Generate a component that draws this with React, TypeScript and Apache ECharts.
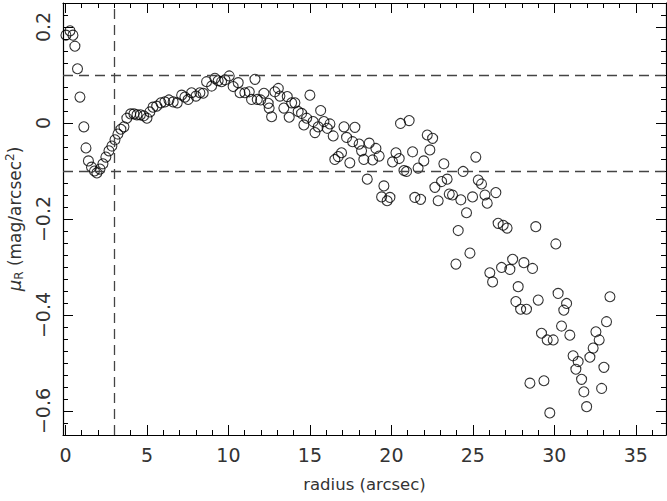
import React, { useEffect, useRef } from "react";
import * as echarts from "echarts";

// radius (arcsec)
const radius = [
  0.03, 0.28, 0.46, 0.58, 0.74, 0.89, 1.13, 1.26, 1.41, 1.6, 1.78, 1.93, 2.12, 2.3, 2.48, 2.67, 2.85,
  3.04, 3.22, 3.4, 3.59, 3.77, 4.0, 4.2, 4.39, 4.6, 4.8, 5.0, 5.18, 5.37, 5.6, 5.86, 6.1, 6.35,
  6.61, 6.86, 7.13, 7.33, 7.53, 7.74, 8.01, 8.25, 8.45, 8.66, 8.97, 9.17, 9.37, 9.58, 9.79, 10.05,
  10.29, 10.6, 10.71, 11.01, 11.28, 11.42, 11.63, 11.77, 11.98, 12.18,
  12.44, 12.5, 12.65, 12.85, 13.06, 13.16, 13.4, 13.61, 13.73, 13.88, 14.08, 14.28, 14.49, 14.63,
  14.8, 15.0, 15.2, 15.31, 15.51, 15.66, 15.86, 16.06, 16.23, 16.43,
  16.53, 16.74, 16.94, 17.09, 17.25, 17.45, 17.62, 17.76, 18.02, 18.17, 18.31, 18.52, 18.64, 18.85,
  19.05, 19.25, 19.4, 19.54, 19.74, 19.91, 20.07, 20.28, 20.48, 20.56, 20.77, 20.93, 21.09,
  21.3, 21.44, 21.64, 21.79, 21.99, 22.2, 22.36, 22.53, 22.67, 22.87, 23.08, 23.22, 23.42, 23.55,
  23.75, 23.96, 24.1, 24.26, 24.4, 24.61, 24.82, 24.98, 25.18, 25.33, 25.53, 25.74, 25.88, 26.04,
  26.21, 26.41, 26.55,
  26.76, 26.86, 27.1, 27.27, 27.44, 27.64, 27.78, 27.93, 28.13, 28.29, 28.5, 28.66, 28.86, 29.01,
  29.21, 29.36, 29.56, 29.72, 29.93, 30.09, 30.23, 30.44, 30.58, 30.75, 30.95, 31.15, 31.32, 31.46,
  31.67, 31.81, 31.98, 32.18, 32.38, 32.55, 32.75, 32.9, 33.04, 33.2, 33.41,
];

// mu_R (mag/arcsec^2)
const muR = [
  0.183, 0.192, 0.183, 0.16, 0.113, 0.054, -0.008, -0.052, -0.079, -0.092, -0.1, -0.104, -0.096,
  -0.085, -0.071, -0.058, -0.048, -0.035, -0.023, -0.013, -0.008, 0.01, 0.019, 0.019, 0.017, 0.017,
  0.015, 0.01, 0.023, 0.033, 0.035, 0.042, 0.044, 0.048,
  0.044, 0.042, 0.058, 0.054, 0.049, 0.063, 0.056, 0.063, 0.062, 0.086, 0.077, 0.093, 0.088, 0.086,
  0.09, 0.098, 0.076, 0.084, 0.063, 0.063, 0.065, 0.049, 0.091, 0.049, 0.048, 0.062,
  0.041, 0.031, 0.013, 0.065, 0.072, 0.056, 0.031, 0.055, 0.012, 0.042, 0.042, 0.024, 0.02, -0.004,
  0.01, 0.058, 0.003, -0.02, -0.008, 0.026, 0.003, -0.011, -0.002, -0.027,
  -0.076, -0.07, -0.062, -0.008, -0.03, -0.083, -0.039, -0.009, -0.044, -0.058, -0.076, -0.117,
  -0.042, -0.077, -0.053, -0.069, -0.154, -0.131, -0.162, -0.155, -0.081, -0.062, -0.074, -0.001,
  -0.099, -0.101, 0.005,
  -0.06, -0.155, -0.094, -0.159, -0.079, -0.025, -0.056, -0.032, -0.134, -0.162, -0.122, -0.085,
  -0.117, -0.148, -0.15, -0.294, -0.224, -0.16, -0.101, -0.187, -0.271, -0.154, -0.071, -0.119,
  -0.127, -0.15, -0.167, -0.312, -0.331, -0.145, -0.209,
  -0.301, -0.213, -0.219, -0.305, -0.284, -0.372, -0.341, -0.388, -0.291, -0.388, -0.542, -0.303,
  -0.216, -0.369, -0.438, -0.537, -0.452, -0.604, -0.452, -0.252, -0.355, -0.423, -0.39, -0.376,
  -0.442, -0.485, -0.513, -0.497, -0.534, -0.56, -0.591, -0.488, -0.469, -0.435, -0.452, -0.553,
  -0.509, -0.414, -0.362,
];

const xTicksMajor = [0, 5, 10, 15, 20, 25, 30, 35];
const yTicksMajor = [-0.6, -0.4, -0.2, 0, 0.2];
const refLevels = [0.1, -0.1];
const refRadius = 3;

const X_MIN = -0.15;
const X_MAX = 36.85;
const Y_MIN = -0.65;
const Y_MAX = 0.25;

const FONT = "DejaVu Sans";
const TXT = "#333";

function range(a: number, b: number, step: number): number[] {
  const out: number[] = [];
  const n = Math.round((b - a) / step);
  for (let i = 0; i <= n; i++) out.push(Math.round((a + i * step) * 1000) / 1000);
  return out;
}

const xTicksMinor = range(0, 36, 1);
const yTicksMinor = range(-0.65, 0.25, 0.025);

function fmtY(v: number): string {
  if (Math.abs(v) < 1e-9) return "0";
  return v < 0 ? "\u2212" + Math.abs(v).toFixed(1) : v.toFixed(1);
}

export default function App() {
  const ref = useRef<HTMLDivElement>(null);
  useEffect(() => {
    if (!ref.current) return;
    const chart = echarts.init(ref.current, undefined, { renderer: "svg" });
    const data = radius.map((r, i) => [r, muR[i]]);

    const baseX = (pos: "bottom" | "top", major: boolean, labels: boolean) => ({
      type: "value",
      position: pos,
      min: X_MIN,
      max: X_MAX,
      axisLine: { show: major, onZero: false, lineStyle: { color: "#000", width: 1.2 } },
      axisTick: {
        show: true,
        inside: true,
        length: major ? 10 : 5,
        customValues: major ? xTicksMajor : xTicksMinor,
        lineStyle: { color: "#000", width: 1 },
      },
      axisLabel: {
        show: labels,
        customValues: xTicksMajor,
        margin: 10,
        fontSize: 19,
        color: TXT,
        fontFamily: FONT,
        formatter: (v: number) => String(Math.round(v)),
      },
      splitLine: { show: false },
      ...(labels
        ? {
            name: "radius (arcsec)",
            nameLocation: "middle",
            nameGap: 41,
            nameTextStyle: { fontSize: 16.5, color: TXT, fontFamily: FONT },
          }
        : {}),
    });

    const baseY = (pos: "left" | "right", major: boolean, labels: boolean) => ({
      type: "value",
      position: pos,
      min: Y_MIN,
      max: Y_MAX,
      axisLine: { show: major, onZero: false, lineStyle: { color: "#000", width: 1.2 } },
      axisTick: {
        show: true,
        inside: true,
        length: major ? 10 : 5,
        customValues: major ? yTicksMajor : yTicksMinor,
        lineStyle: { color: "#000", width: 1 },
      },
      axisLabel: {
        show: labels,
        customValues: yTicksMajor,
        rotate: 90,
        margin: 11,
        fontSize: 19,
        color: TXT,
        fontFamily: FONT,
        formatter: fmtY,
      },
      splitLine: { show: false },
      ...(labels
        ? {
            name: "{mu|\u03bc}{sub|R} (mag/arcsec{sup|2})",
            nameLocation: "middle",
            nameRotate: 90,
            nameGap: 36,
            nameTextStyle: {
              fontSize: 17,
              color: TXT,
              fontFamily: FONT,
              rich: {
                mu: { fontSize: 18, fontStyle: "italic", fontFamily: FONT, color: TXT },
                sub: {
                  fontSize: 12,
                  fontFamily: FONT,
                  color: TXT,
                  verticalAlign: "bottom",
                  padding: [9, 0, 0, 0],
                },
                sup: {
                  fontSize: 12,
                  fontFamily: FONT,
                  color: TXT,
                  verticalAlign: "top",
                  padding: [0, 0, 9, 0],
                },
              },
            },
          }
        : {}),
    });

    chart.setOption({
      animation: false,
      backgroundColor: "#fff",
      grid: {
        left: 63,
        right: 1,
        top: 3,
        bottom: 66,
        containLabel: false,
        outerBoundsMode: "none",
      },
      xAxis: [
        baseX("bottom", true, true),
        baseX("bottom", false, false),
        baseX("top", true, false),
        baseX("top", false, false),
      ],
      yAxis: [
        baseY("left", true, true),
        baseY("left", false, false),
        baseY("right", true, false),
        baseY("right", false, false),
      ],
      series: [
        {
          type: "scatter",
          xAxisIndex: 0,
          yAxisIndex: 0,
          data,
          symbol: "circle",
          symbolSize: 10,
          itemStyle: { color: "rgba(0,0,0,0)", borderColor: "#000", borderWidth: 1.1 },
          markLine: {
            silent: true,
            symbol: "none",
            label: { show: false },
            lineStyle: { color: "#444", type: [10, 6], width: 1.3 },
            data: [
              ...refLevels.map((v) => ({ yAxis: v })),
              { xAxis: refRadius },
            ],
          },
        },
      ],
    });
    return () => chart.dispose();
  }, []);
  return (
    <div
      ref={ref}
      style={{ position: "absolute", left: 0, top: 0, width: 667, height: 501 }}
    />
  );
}
